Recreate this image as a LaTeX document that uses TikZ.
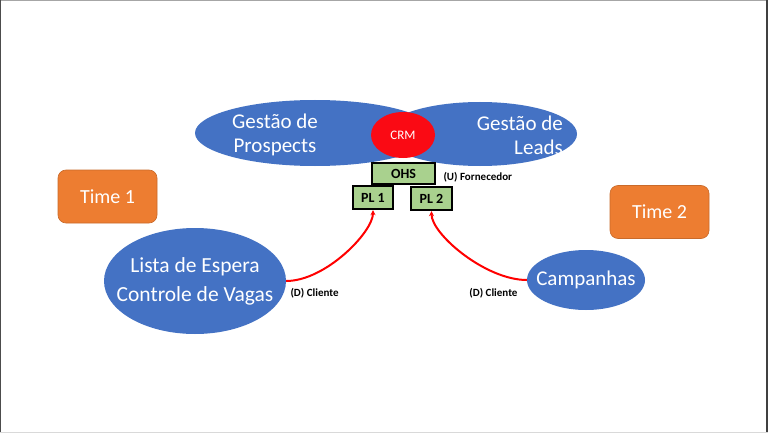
\documentclass[tikz,border=0pt]{standalone}
\usepackage{fontspec}
\setmainfont{Carlito}
\usetikzlibrary{shapes.geometric,arrows.meta}
\definecolor{ctxblue}{RGB}{68,114,196}
\definecolor{crmred}{RGB}{250,10,20}
\definecolor{plgreen}{RGB}{169,209,142}
\definecolor{teamorange}{RGB}{237,125,49}
\begin{document}
\begin{tikzpicture}[x=1pt, y=-1pt,
   ctx_style/.style={ellipse, fill=ctxblue, inner sep=0pt},
   big_text/.style={text=white, align=center, inner sep=0pt, font=\fontsize{21}{24}\selectfont},
   box_style/.style={rectangle, draw=black, line width=2.4pt, fill=plgreen, inner sep=0pt,
      font=\fontsize{14}{14}\selectfont\bfseries},
   team_style/.style={rectangle, rounded corners=8pt, fill=teamorange, draw=teamorange!85!black,
      line width=0.6pt, text=white, font=\fontsize{20}{20}\selectfont,
      minimum width=99pt, minimum height=53pt},
   rel_style/.style={font=\fontsize{11}{11}\selectfont\bfseries},
   arrow_style/.style={draw=red, line width=2pt, -{Stealth[length=5pt,width=5pt]}}]
	% frame
	\fill[white] (0,0) rectangle (768,433);
	\useasboundingbox (0,0) rectangle (768,433);
	\draw[gray!70, line width=2pt] (0,0) -- (768,0);
	\draw[black!70, line width=1.2pt] (0.5,0) -- (0.5,433);
	\draw[black!75, line width=2pt] (767,0) -- (767,433);
	\draw[gray!30, line width=1pt] (0,432) -- (768,432);

	% bounded contexts
	\node [ctx_style, minimum width=240pt, minimum height=66pt] (gp) at (315,133) {};
	\node [ctx_style, minimum width=194pt, minimum height=64pt] (gl) at (480,134) {};
	\node [ellipse, fill=crmred, inner sep=0pt, minimum width=64pt, minimum height=46pt,
	   text=white, font=\fontsize{13}{13}\selectfont] (crm) at (403,135) {CRM};
	\node [big_text] (gp_text) at (275,135) {Gestão de\\Prospects};
	\node [big_text, align=right, anchor=east] (gl_text) at (563,135) {Gestão de\\Leads};

	\node [ctx_style, minimum width=182pt, minimum height=106pt] (lista) at (195,281) {};
	\node [big_text, font=\fontsize{21.5}{29}\selectfont] (lista_text) at (lista.center) {Lista de Espera\\Controle de Vagas};
	\node [ctx_style, minimum width=118pt, minimum height=60pt] (camp) at (586,280) {};
	\node [big_text] (camp_text) at (camp.center) {Campanhas};

	% published language
	\node [box_style, minimum width=63pt, minimum height=21pt] (ohs) at (403.5,173.5) {OHS};
	\node [box_style, minimum width=40pt, minimum height=23pt] (pl1) at (373,197.5) {PL 1};
	\node [box_style, minimum width=41pt, minimum height=23pt] (pl2) at (431.5,198.5) {PL 2};
	\node [rel_style, anchor=west] (forn) at (440,177) {(U) Fornecedor};

	% teams
	\node [team_style] (t1) at (107.5,196.5) {Time 1};
	\node [team_style] (t2) at (659.5,212) {Time 2};

	\foreach \from/\to/\out in {lista/pl1/0, camp/pl2/180}
	  \draw [arrow_style] (\from) to[out=\out, in=-90, out looseness=0.9, in looseness=0.5] (\to);

	\node [rel_style, anchor=west] (cli1) at (287,293) {(D) Cliente};
	\node [rel_style, anchor=east] (cli2) at (521,293) {(D) Cliente};
\end{tikzpicture}
\end{document}
